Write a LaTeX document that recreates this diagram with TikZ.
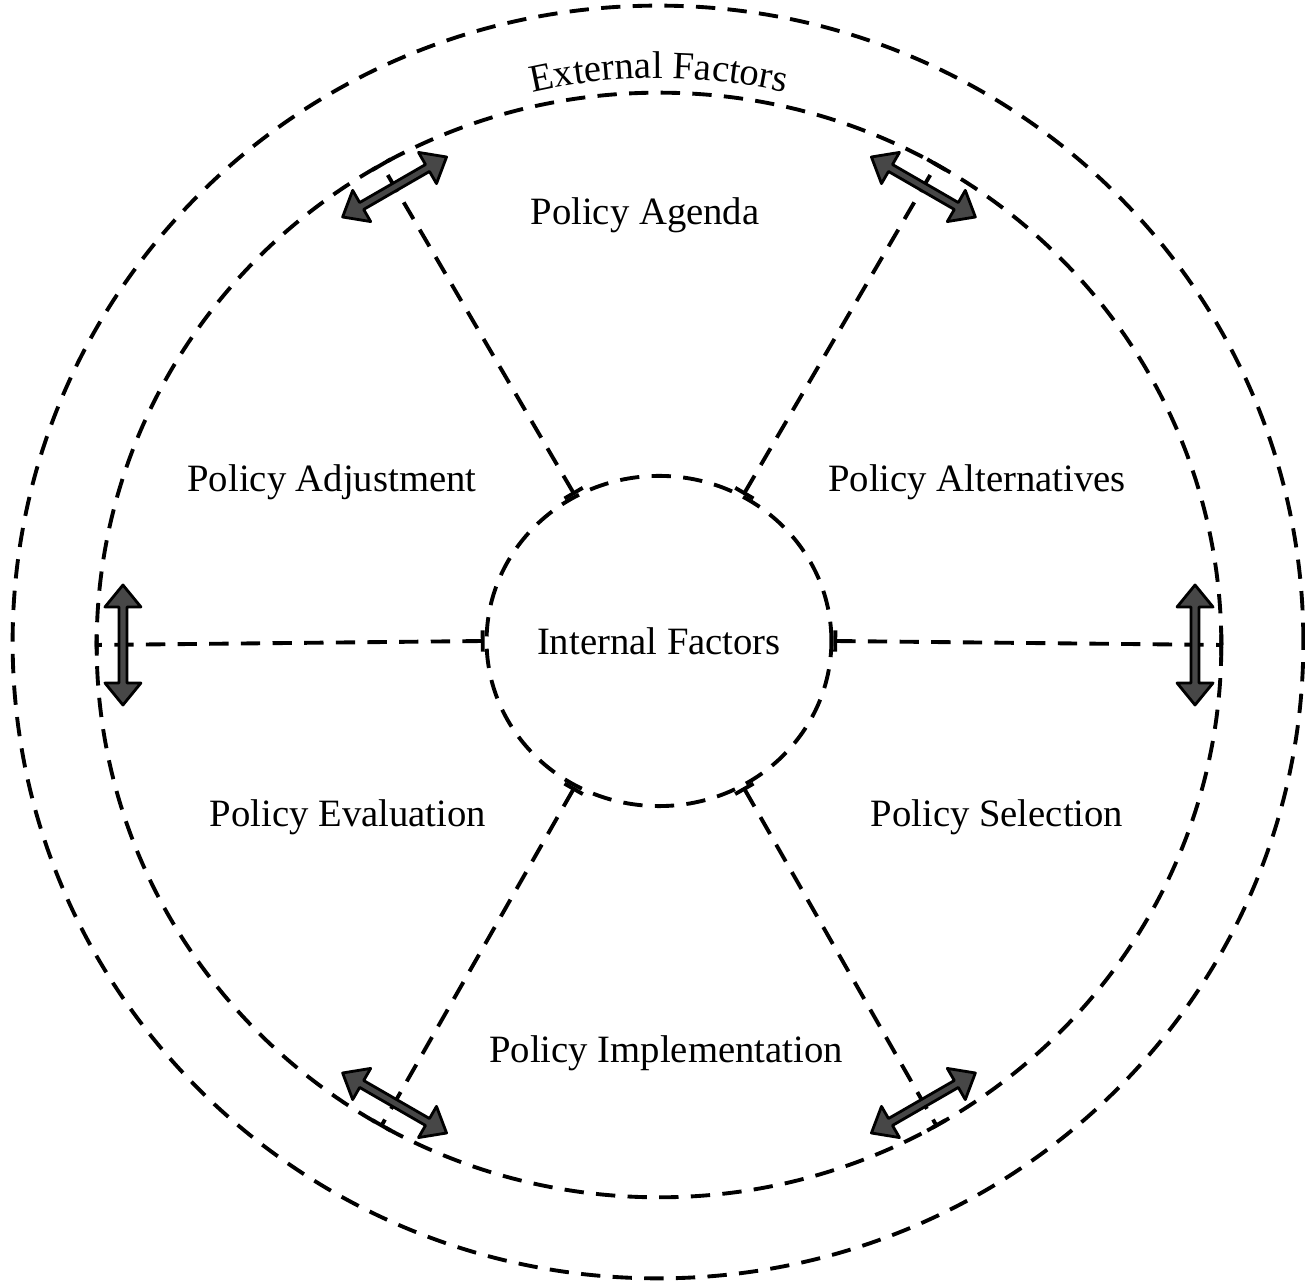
\documentclass[tikz,border=0pt]{standalone}
\usepackage{fontspec}
\setmainfont{Liberation Serif}
\usetikzlibrary{shapes.geometric,arrows.meta,calc,decorations.text}
\newcommand\stagefont{\fontsize{11}{13}\selectfont}
\tikzset{
  ring/.style  = {draw, ellipse, line width=1.1pt, dash pattern=on 5.5pt off 3.5pt,
                  inner sep=0pt},
  spoke/.style = {line width=1.1pt, dash pattern=on 5.5pt off 3.5pt,
                  {Bar[width=6pt]}-{Bar[width=6pt]}},
  stage/.style = {font=\stagefont, inner sep=1pt},
  swing/.style = {draw=black, fill=black!72, line width=0.8pt, line join=round},
}

\begin{document}
\begin{tikzpicture}[x=0.01cm, y=0.01cm]
\useasboundingbox (-659,-641) rectangle (646,641);

% --- rings ---
\node[ring, minimum width=12.90cm, minimum height=12.72cm] (outer) at (-1,-1) {};
\node[ring, minimum width=11.24cm, minimum height=11.04cm] (wheel) at (0,-4) {};
\node[ring, minimum width=3.38cm, minimum height=3.30cm, font=\stagefont] (inner) at (0,0)
     {Internal Factors};

% --- spokes with the two-way arrows at the rim ---
\foreach \a in {0,60,...,300}{
  \draw[spoke] (inner.\a) -- (wheel.\a);
  \coordinate (sw\a) at ($(wheel.center)!0.95!(wheel.\a)$);
  \filldraw[swing, shift={(sw\a)}, rotate=\a]
    (0,60) -- (18,38) -- (4,38) -- (4,-38) -- (18,-38) -- (0,-60)
    -- (-18,-38) -- (-4,-38) -- (-4,38) -- (-18,38) -- cycle;
}

% --- stages ---
\node[stage] (agenda) at (-14,426)  {Policy Agenda};
\node[stage] (alt)    at (318,159)  {Policy Alternatives};
\node[stage] (sel)    at (338,-176) {Policy Selection};
\node[stage] (impl)   at (7,-412)   {Policy Implementation};
\node[stage] (eval)   at (-311,-176) {Policy Evaluation};
\node[stage] (adj)    at (-327,159) {Policy Adjustment};

% --- curved label between the two outer rings ---
\path[decorate, decoration={text along path, text align=center,
      text={|\stagefont|External Factors}}]
  (wheel.center) ++(115:567) arc[start angle=115, end angle=65, radius=567];
\end{tikzpicture}
\end{document}
